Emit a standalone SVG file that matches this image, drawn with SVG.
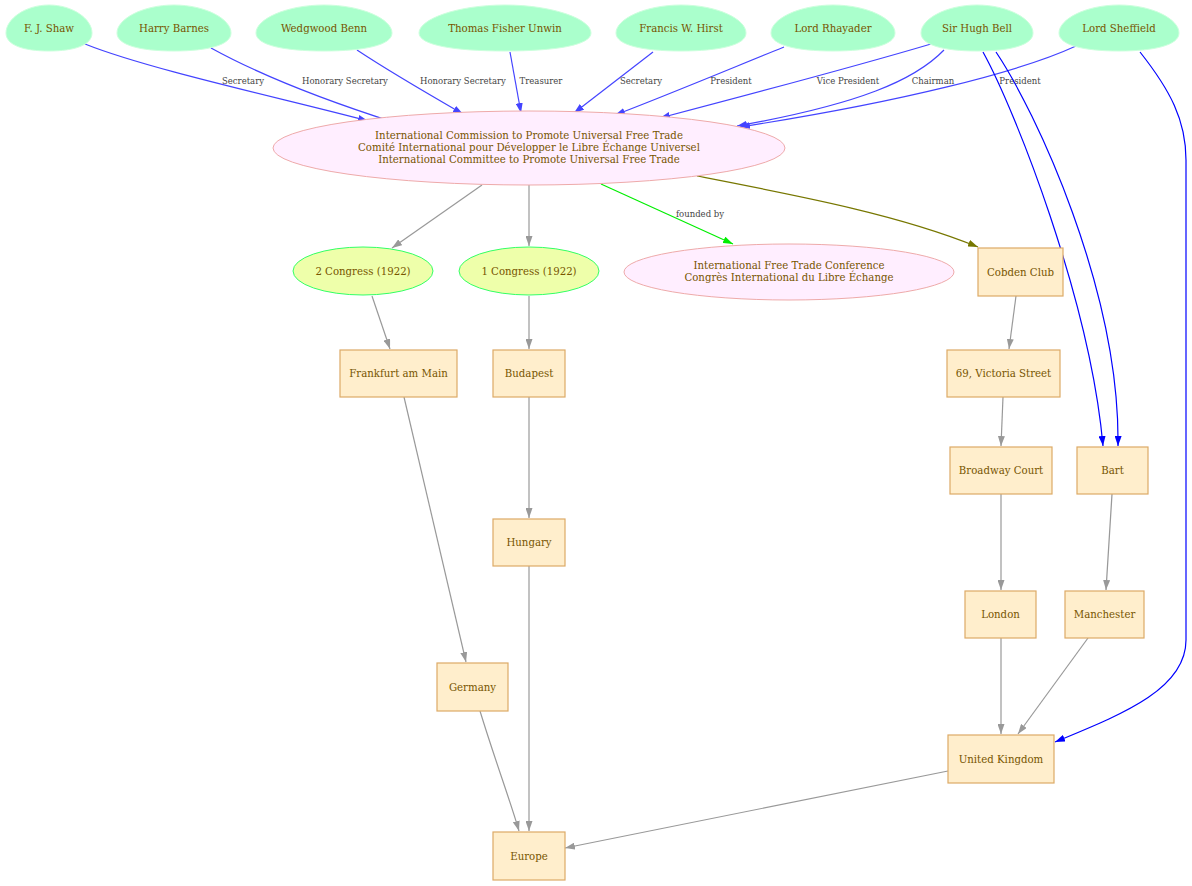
<svg xmlns="http://www.w3.org/2000/svg" width="1192" height="886" viewBox="0 0 1192 886">
<style>
text{font-family:"DejaVu Serif","Liberation Serif",serif;}
.nt{font-size:10.2px;fill:#775500;text-anchor:middle;dominant-baseline:central;}
.el{font-size:8.5px;fill:#444444;text-anchor:middle;}
.egg{fill:#aaffcc;stroke:#ccffdd;stroke-width:1;}
.org{fill:#ffeeff;stroke:#eeaaaa;stroke-width:1;}
.cong{fill:#eeffaa;stroke:#33ff66;stroke-width:1;}
.box{fill:#ffeecc;stroke:#ddaa66;stroke-width:1.2;}
.e{fill:none;stroke-width:1.2;}
.bl{stroke:#4444ff;}
.bb{stroke:#0000ff;}
.gr{stroke:#999999;}
.gn{stroke:#00ee00;}
.ol{stroke:#777700;}
</style>
<defs>
<marker id="aBl" markerUnits="userSpaceOnUse" markerWidth="10" markerHeight="7" refX="10" refY="3.5" orient="auto"><path d="M0,0 L10,3.5 L0,7 z" fill="#4444ff"/></marker>
<marker id="aBb" markerUnits="userSpaceOnUse" markerWidth="10" markerHeight="7" refX="10" refY="3.5" orient="auto"><path d="M0,0 L10,3.5 L0,7 z" fill="#0000ff"/></marker>
<marker id="aGr" markerUnits="userSpaceOnUse" markerWidth="10" markerHeight="7" refX="10" refY="3.5" orient="auto"><path d="M0,0 L10,3.5 L0,7 z" fill="#999999"/></marker>
<marker id="aGn" markerUnits="userSpaceOnUse" markerWidth="10" markerHeight="7" refX="10" refY="3.5" orient="auto"><path d="M0,0 L10,3.5 L0,7 z" fill="#00ee00"/></marker>
<marker id="aOl" markerUnits="userSpaceOnUse" markerWidth="10" markerHeight="7" refX="10" refY="3.5" orient="auto"><path d="M0,0 L10,3.5 L0,7 z" fill="#777700"/></marker>
</defs>
<rect width="1192" height="886" fill="#ffffff"/>

<g id="edges">
<path class="e bl" marker-end="url(#aBl)" d="M85,44 C150,70 290,100 368,121"/>
<path class="e bl" marker-end="url(#aBl)" d="M211,48 C260,75 330,102 396,123"/>
<path class="e bl" marker-end="url(#aBl)" d="M357,50 C390,72 430,95 463,114"/>
<path class="e bl" marker-end="url(#aBl)" d="M510,52 L521,113"/>
<path class="e bl" marker-end="url(#aBl)" d="M653,52 L574,113"/>
<path class="e bl" marker-end="url(#aBl)" d="M784,47 C720,73 660,98 615,115"/>
<path class="e bl" marker-end="url(#aBl)" d="M931,44 C850,68 740,97 660,118"/>
<path class="e bl" marker-end="url(#aBl)" d="M944,50 C915,80 860,104 737,126"/>
<path class="e bl" marker-end="url(#aBl)" d="M1076,46 C1020,72 900,102 740,127"/>
<text class="el" x="243" y="84">Secretary</text>
<text class="el" x="345" y="84">Honorary Secretary</text>
<text class="el" x="463" y="84">Honorary Secretary</text>
<text class="el" x="541" y="84">Treasurer</text>
<text class="el" x="641" y="84">Secretary</text>
<text class="el" x="731" y="84">President</text>
<text class="el" x="848" y="84">Vice President</text>
<text class="el" x="933" y="84">Chairman</text>
<text class="el" x="1020" y="84">President</text>
<path class="e bb" marker-end="url(#aBb)" d="M983,52 C1015,110 1090,300 1103,446"/>
<path class="e bb" marker-end="url(#aBb)" d="M996,52 C1035,110 1120,290 1118,446"/>
<path class="e bb" marker-end="url(#aBb)" d="M1140,52 C1170,90 1186,120 1186,160 L1186,640 C1186,690 1120,715 1055,742"/>
<path class="e gr" marker-end="url(#aGr)" d="M482,185 L392,248"/>
<path class="e gr" marker-end="url(#aGr)" d="M529,185 L529,246"/>
<path class="e gn" marker-end="url(#aGn)" d="M601,184 L733,244"/>
<text class="el" x="700" y="217">founded by</text>
<path class="e ol" marker-end="url(#aOl)" d="M697,176 C800,196 900,215 978,247"/>
<path class="e gr" marker-end="url(#aGr)" d="M372,296 L390,349"/>
<path class="e gr" marker-end="url(#aGr)" d="M529,296 L529,349"/>
<path class="e gr" marker-end="url(#aGr)" d="M1016,296 L1009,349"/>
<path class="e gr" marker-end="url(#aGr)" d="M1003,397 L1001,446"/>
<path class="e gr" marker-end="url(#aGr)" d="M1001,494 L1001,590"/>
<path class="e gr" marker-end="url(#aGr)" d="M1112,494 L1106,590"/>
<path class="e gr" marker-end="url(#aGr)" d="M529,397 L529,518"/>
<path class="e gr" marker-end="url(#aGr)" d="M404,397 L466,662"/>
<path class="e gr" marker-end="url(#aGr)" d="M529,566 L529,831"/>
<path class="e gr" marker-end="url(#aGr)" d="M480,711 C495,760 510,800 519,831"/>
<path class="e gr" marker-end="url(#aGr)" d="M1001,638 L1001,734"/>
<path class="e gr" marker-end="url(#aGr)" d="M1088,638 L1018,734"/>
<path class="e gr" marker-end="url(#aGr)" d="M948,771 L565,848"/>
</g>

<g id="n-shaw"><path class="egg" d="M49,5 C72.7,5 92,19 92,33 C92,45 74.8,51 49,51 C23.2,51 6,45 6,33 C6,19 25.3,5 49,5Z"/><text class="nt" x="49" y="28">F. J. Shaw</text></g>
<g id="n-barnes"><path class="egg" d="M174,5 C205.4,5 231,19 231,33 C231,45 208.2,51 174,51 C139.8,51 117,45 117,33 C117,19 142.6,5 174,5Z"/><text class="nt" x="174" y="28">Harry Barnes</text></g>
<g id="n-benn"><path class="egg" d="M324,5 C361.4,5 392,19 392,33 C392,45 364.8,51 324,51 C283.2,51 256,45 256,33 C256,19 286.6,5 324,5Z"/><text class="nt" x="324" y="28">Wedgwood Benn</text></g>
<g id="n-unwin"><path class="egg" d="M505,5 C552.3,5 591,19 591,33 C591,45 556.6,51 505,51 C453.4,51 419,45 419,33 C419,19 457.7,5 505,5Z"/><text class="nt" x="505" y="28">Thomas Fisher Unwin</text></g>
<g id="n-hirst"><path class="egg" d="M681,5 C716.8,5 746,19 746,33 C746,45 720,51 681,51 C642,51 616,45 616,33 C616,19 645.2,5 681,5Z"/><text class="nt" x="681" y="28">Francis W. Hirst</text></g>
<g id="n-rhayader"><path class="egg" d="M833,5 C867.1,5 895,19 895,33 C895,45 870.2,51 833,51 C795.8,51 771,45 771,33 C771,19 798.9,5 833,5Z"/><text class="nt" x="833" y="28">Lord Rhayader</text></g>
<g id="n-bell"><path class="egg" d="M977,5 C1007.8,5 1033,19 1033,33 C1033,45 1010.6,51 977,51 C943.4,51 921,45 921,33 C921,19 946.2,5 977,5Z"/><text class="nt" x="977" y="28">Sir Hugh Bell</text></g>
<g id="n-sheffield"><path class="egg" d="M1119,5 C1152,5 1179,19 1179,33 C1179,45 1155,51 1119,51 C1083,51 1059,45 1059,33 C1059,19 1086,5 1119,5Z"/><text class="nt" x="1119" y="28">Lord Sheffield</text></g>

<g id="n-commission"><ellipse class="org" cx="529" cy="148" rx="256" ry="37"/>
<text class="nt" x="529" y="135">International Commission to Promote Universal Free Trade</text>
<text class="nt" x="529" y="147">Comité International pour Développer le Libre Échange Universel</text>
<text class="nt" x="529" y="159">International Committee to Promote Universal Free Trade</text></g>

<g id="n-congress2"><ellipse class="cong" cx="363" cy="271" rx="70" ry="24"/><text class="nt" x="363" y="271">2 Congress (1922)</text></g>
<g id="n-congress1"><ellipse class="cong" cx="529" cy="271" rx="70" ry="24"/><text class="nt" x="529" y="271">1 Congress (1922)</text></g>
<g id="n-iftc"><ellipse class="org" cx="789" cy="272" rx="165" ry="28"/>
<text class="nt" x="789" y="265">International Free Trade Conference</text>
<text class="nt" x="789" y="277">Congrès International du Libre Échange</text></g>
<g id="n-cobden"><rect class="box" x="978" y="248" width="85" height="48"/><text class="nt" x="1020.5" y="272">Cobden Club</text></g>

<g id="n-frankfurt"><rect class="box" x="340" y="350" width="117" height="47"/><text class="nt" x="398.5" y="373.5">Frankfurt am Main</text></g>
<g id="n-budapest"><rect class="box" x="493" y="350" width="72" height="47"/><text class="nt" x="529" y="373.5">Budapest</text></g>
<g id="n-victoria"><rect class="box" x="947" y="350" width="113" height="47"/><text class="nt" x="1003.5" y="373.5">69, Victoria Street</text></g>
<g id="n-broadway"><rect class="box" x="950" y="447" width="102" height="47"/><text class="nt" x="1001" y="470.5">Broadway Court</text></g>
<g id="n-bart"><rect class="box" x="1077" y="447" width="71" height="47"/><text class="nt" x="1112.5" y="470.5">Bart</text></g>
<g id="n-hungary"><rect class="box" x="493" y="519" width="72" height="47"/><text class="nt" x="529" y="542.5">Hungary</text></g>
<g id="n-london"><rect class="box" x="965" y="591" width="71" height="47"/><text class="nt" x="1000.5" y="614.5">London</text></g>
<g id="n-manchester"><rect class="box" x="1065" y="591" width="79" height="47"/><text class="nt" x="1104.5" y="614.5">Manchester</text></g>
<g id="n-germany"><rect class="box" x="437" y="663" width="71" height="48"/><text class="nt" x="472.5" y="687">Germany</text></g>
<g id="n-uk"><rect class="box" x="948" y="735" width="106" height="48"/><text class="nt" x="1001" y="759">United Kingdom</text></g>
<g id="n-europe"><rect class="box" x="493" y="832" width="72" height="48"/><text class="nt" x="529" y="856">Europe</text></g>
</svg>
